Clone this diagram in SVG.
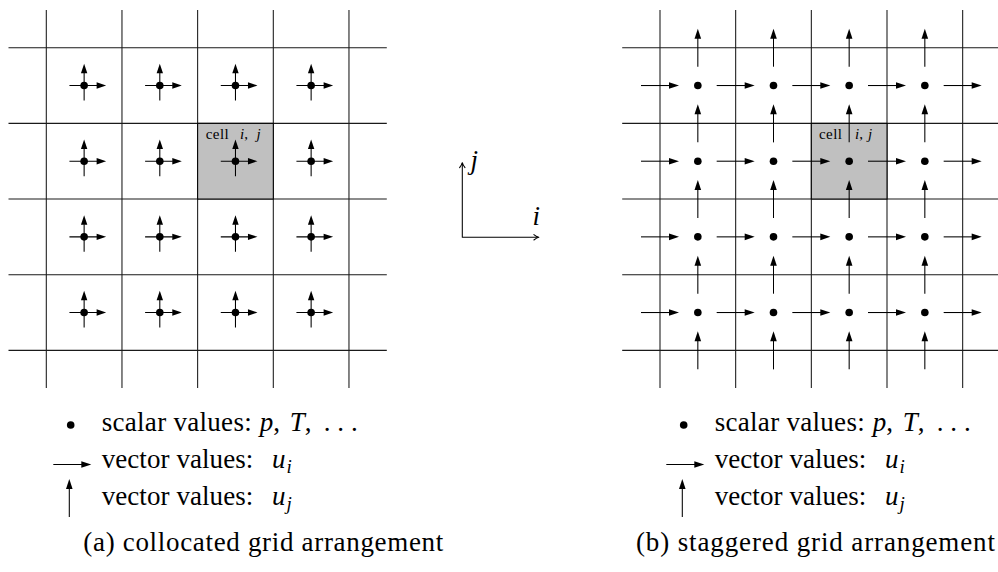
<svg xmlns="http://www.w3.org/2000/svg" width="998" height="572" viewBox="0 0 998 572">
<style>
.gl{fill:none;stroke:#1a1a1a;stroke-width:1.06}
.ln{fill:none;stroke:#000;stroke-width:1.06}
.hd{fill:#000;stroke:none}
.cell{fill:#c0c0c0;stroke:#000;stroke-width:1.06}
text{font-family:"Liberation Serif","DejaVu Serif",serif;font-size:27px;fill:#000}
.it{font-style:italic}
.sub{font-size:19px}
.sm{font-size:15px}
.ax{fill:none;stroke:#000;stroke-width:1.06;stroke-linecap:round;stroke-linejoin:round}
</style>
<defs>
<path id="grid" class="gl" d="M0,10V388M75.67,10V388M151.33,10V388M227,10V388M302.67,10V388M-37.8,47.7H340.5M-37.8,123.37H340.5M-37.8,199.03H340.5M-37.8,274.7H340.5M-37.8,350.37H340.5"/>
<g id="co">
<path class="ln" d="M-14.7,0H13M0,15V-12.5"/>
<path class="hd" d="M22,0L12.5,-3.2V3.2ZM0,-21.7L-3.2,-12.2H3.2Z"/>
<circle class="hd" r="3.8"/>
</g>
<g id="ah"><path class="ln" d="M-19,0H10"/><path class="hd" d="M19,0L9,-3.3V3.3Z"/></g>
<g id="av"><path class="ln" d="M0,19V-10"/><path class="hd" d="M0,-19L-3.3,-9H3.3Z"/></g>
<circle id="dot" class="hd" r="3.8"/>
</defs>

<g id="grid-a">
<use href="#grid" x="46.3" y="0"/>
<rect class="cell" x="197.63" y="123.37" width="75.67" height="75.66"/>
</g>
<g id="cell-label-a">
<text class="sm" x="205.7" y="139" textLength="23">cell</text>
<text class="sm" x="240" y="139"><tspan class="it">i</tspan>,</text>
<text class="sm it" x="256.5" y="139">j</text>
</g>
<g id="vectors-a">
<use href="#co" x="84.13" y="85.53"/><use href="#co" x="159.8" y="85.53"/><use href="#co" x="235.47" y="85.53"/><use href="#co" x="311.13" y="85.53"/>
<use href="#co" x="84.13" y="161.2"/><use href="#co" x="159.8" y="161.2"/><use href="#co" x="235.47" y="161.2"/><use href="#co" x="311.13" y="161.2"/>
<use href="#co" x="84.13" y="236.87"/><use href="#co" x="159.8" y="236.87"/><use href="#co" x="235.47" y="236.87"/><use href="#co" x="311.13" y="236.87"/>
<use href="#co" x="84.13" y="312.53"/><use href="#co" x="159.8" y="312.53"/><use href="#co" x="235.47" y="312.53"/><use href="#co" x="311.13" y="312.53"/>
</g>

<g id="axes">
<path class="ax" d="M462.3,237.3V163.2M462.3,237.3H537.8"/>
<path class="ax" d="M459.6,167.6Q461.9,164.6 462.3,162.7Q462.7,164.6 465,167.6"/>
<path class="ax" d="M533.9,234.6Q536.9,236.9 538.8,237.3Q536.9,237.7 533.9,240"/>
<text class="it" x="470.5" y="169">j</text>
<text class="it" x="532.5" y="225">i</text>
</g>

<g id="grid-b">
<use href="#grid" x="660" y="0"/>
<rect class="cell" x="811.33" y="123.37" width="75.67" height="75.66"/>
</g>
<g id="cell-label-b">
<text class="sm" x="819" y="139" textLength="23">cell</text>
<text class="sm" x="855" y="139"><tspan class="it">i</tspan>,</text>
<text class="sm it" x="868" y="139">j</text>
</g>
<g id="vectors-b">
<use href="#ah" x="660" y="85.53"/><use href="#ah" x="735.67" y="85.53"/><use href="#ah" x="811.33" y="85.53"/><use href="#ah" x="887" y="85.53"/><use href="#ah" x="962.67" y="85.53"/>
<use href="#ah" x="660" y="161.2"/><use href="#ah" x="735.67" y="161.2"/><use href="#ah" x="811.33" y="161.2"/><use href="#ah" x="887" y="161.2"/><use href="#ah" x="962.67" y="161.2"/>
<use href="#ah" x="660" y="236.87"/><use href="#ah" x="735.67" y="236.87"/><use href="#ah" x="811.33" y="236.87"/><use href="#ah" x="887" y="236.87"/><use href="#ah" x="962.67" y="236.87"/>
<use href="#ah" x="660" y="312.53"/><use href="#ah" x="735.67" y="312.53"/><use href="#ah" x="811.33" y="312.53"/><use href="#ah" x="887" y="312.53"/><use href="#ah" x="962.67" y="312.53"/>
<use href="#av" x="697.83" y="47.7"/><use href="#av" x="773.5" y="47.7"/><use href="#av" x="849.17" y="47.7"/><use href="#av" x="924.83" y="47.7"/>
<use href="#av" x="697.83" y="123.37"/><use href="#av" x="773.5" y="123.37"/><use href="#av" x="849.17" y="123.37"/><use href="#av" x="924.83" y="123.37"/>
<use href="#av" x="697.83" y="199.03"/><use href="#av" x="773.5" y="199.03"/><use href="#av" x="849.17" y="199.03"/><use href="#av" x="924.83" y="199.03"/>
<use href="#av" x="697.83" y="274.7"/><use href="#av" x="773.5" y="274.7"/><use href="#av" x="849.17" y="274.7"/><use href="#av" x="924.83" y="274.7"/>
<use href="#av" x="697.83" y="350.37"/><use href="#av" x="773.5" y="350.37"/><use href="#av" x="849.17" y="350.37"/><use href="#av" x="924.83" y="350.37"/>
<use href="#dot" x="697.83" y="85.53"/><use href="#dot" x="773.5" y="85.53"/><use href="#dot" x="849.17" y="85.53"/><use href="#dot" x="924.83" y="85.53"/>
<use href="#dot" x="697.83" y="161.2"/><use href="#dot" x="773.5" y="161.2"/><use href="#dot" x="849.17" y="161.2"/><use href="#dot" x="924.83" y="161.2"/>
<use href="#dot" x="697.83" y="236.87"/><use href="#dot" x="773.5" y="236.87"/><use href="#dot" x="849.17" y="236.87"/><use href="#dot" x="924.83" y="236.87"/>
<use href="#dot" x="697.83" y="312.53"/><use href="#dot" x="773.5" y="312.53"/><use href="#dot" x="849.17" y="312.53"/><use href="#dot" x="924.83" y="312.53"/>
</g>

<g id="legend-a">
<use href="#dot" x="70.7" y="425"/>
<use href="#ah" x="72.3" y="464.5"/>
<use href="#av" x="69.3" y="498"/>
<text x="101.7" y="431" textLength="150">scalar values:</text>
<text x="259.7" y="431"><tspan class="it">p</tspan>,</text>
<text x="289.7" y="431"><tspan class="it">T</tspan>,</text>
<text x="323.7" y="431" textLength="34">. . .</text>
<text x="101.7" y="468" textLength="151.6">vector values:</text>
<text class="it" x="272" y="468">u</text><text class="it sub" x="286.5" y="472.5">i</text>
<text x="101.7" y="505" textLength="151.6">vector values:</text>
<text class="it" x="272" y="505">u</text><text class="it sub" x="286.5" y="509.5">j</text>
</g>
<g id="legend-b">
<use href="#dot" x="683.7" y="425"/>
<use href="#ah" x="685.3" y="464.5"/>
<use href="#av" x="682.3" y="498"/>
<text x="714.7" y="431" textLength="150">scalar values:</text>
<text x="872.7" y="431"><tspan class="it">p</tspan>,</text>
<text x="902.7" y="431"><tspan class="it">T</tspan>,</text>
<text x="936.7" y="431" textLength="34">. . .</text>
<text x="714.7" y="468" textLength="151.6">vector values:</text>
<text class="it" x="885" y="468">u</text><text class="it sub" x="899.5" y="472.5">i</text>
<text x="714.7" y="505" textLength="151.6">vector values:</text>
<text class="it" x="885" y="505">u</text><text class="it sub" x="899.5" y="509.5">j</text>
</g>
<g id="caption-a"><text x="83.3" y="551" textLength="360">(a) collocated grid arrangement</text></g>
<g id="caption-b"><text x="636" y="551" textLength="359">(b) staggered grid arrangement</text></g>
</svg>
